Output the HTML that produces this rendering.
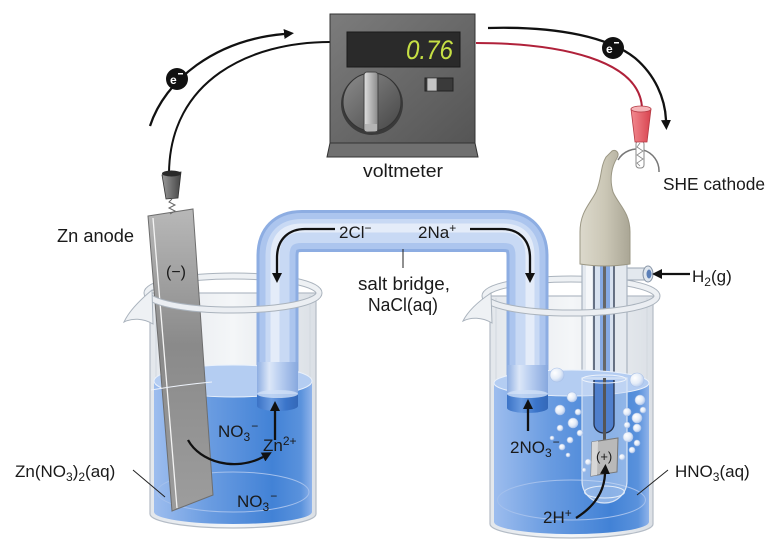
<!DOCTYPE html>
<html><head><meta charset="utf-8"><style>
html,body{margin:0;padding:0;background:#fff;}
svg{display:block;}
text{font-family:"Liberation Sans",sans-serif;fill:#1a1a1a;}
</style></head><body>
<svg width="780" height="552" viewBox="0 0 780 552" xmlns="http://www.w3.org/2000/svg">
<defs>
<marker id="ah" viewBox="0 0 10 10" refX="0" refY="5" markerWidth="10" markerHeight="10" markerUnits="userSpaceOnUse" orient="auto"><path d="M0,0 L10,5 L0,10 z" fill="#111"/></marker>
<linearGradient id="vm" x1="0" y1="0" x2="1" y2="1"><stop offset="0" stop-color="#7c7c7c"/><stop offset="1" stop-color="#555"/></linearGradient>
<linearGradient id="knob" x1="0" y1="0" x2="1" y2="1"><stop offset="0" stop-color="#8c8c8c"/><stop offset="1" stop-color="#464646"/></linearGradient>
<linearGradient id="hdl" x1="0" x2="1"><stop offset="0" stop-color="#e0e0e0"/><stop offset="1" stop-color="#8a8a8a"/></linearGradient>
<linearGradient id="liq" x1="0" x2="1"><stop offset="0" stop-color="#9dbdee"/><stop offset="0.35" stop-color="#6a9ce1"/><stop offset="0.75" stop-color="#4282d6"/><stop offset="0.93" stop-color="#5a92dc"/><stop offset="1" stop-color="#8fb3ea"/></linearGradient>
<linearGradient id="zn" x1="0" y1="0" x2="0" y2="1"><stop offset="0" stop-color="#b8b8b8"/><stop offset="0.45" stop-color="#8a8a8a"/><stop offset="1" stop-color="#9d9d9d"/></linearGradient>
<linearGradient id="clip" x1="0" x2="1"><stop offset="0" stop-color="#9a9a9a"/><stop offset="1" stop-color="#444"/></linearGradient>
<linearGradient id="bulb" x1="0" x2="1"><stop offset="0" stop-color="#dcd9cc"/><stop offset="0.5" stop-color="#cbc7b6"/><stop offset="1" stop-color="#aaa695"/></linearGradient>
<linearGradient id="red" x1="0" x2="1"><stop offset="0" stop-color="#f28a90"/><stop offset="1" stop-color="#d8434f"/></linearGradient>
<linearGradient id="glass" x1="0" x2="1"><stop offset="0" stop-color="#e3e7ec"/><stop offset="0.5" stop-color="#f4f6f8"/><stop offset="1" stop-color="#dbe0e6"/></linearGradient>
<linearGradient id="leg" x1="0" x2="1"><stop offset="0" stop-color="#8eaee2"/><stop offset="0.3" stop-color="#dce7f8"/><stop offset="0.6" stop-color="#b5cbef"/><stop offset="1" stop-color="#87a8de"/></linearGradient>
<linearGradient id="legin" x1="0" x2="1"><stop offset="0" stop-color="#3a72c6"/><stop offset="0.35" stop-color="#6a9be0"/><stop offset="0.7" stop-color="#3b75ca"/><stop offset="1" stop-color="#3468b8"/></linearGradient>
<radialGradient id="bub" cx="0.35" cy="0.35" r="0.7"><stop offset="0" stop-color="#ffffff"/><stop offset="0.6" stop-color="#e4ecf8"/><stop offset="1" stop-color="#b4caee"/></radialGradient>
</defs>

<!-- top wires -->
<path d="M330,42 C250,42 170,80 169,173" fill="none" stroke="#111" stroke-width="2"/>
<path d="M150,126 C165,80 215,40 284,34" fill="none" stroke="#111" stroke-width="2.3" marker-end="url(#ah)"/>
<circle cx="177" cy="79" r="11" fill="#111"/>
<text x="170" y="84" font-size="12" font-weight="bold" style="fill:#fff">e</text>
<rect x="178" y="73" width="5" height="1.5" fill="#fff"/>
<path d="M488,28 C560,26 610,38 635,58 C655,75 665,98 666,120" fill="none" stroke="#111" stroke-width="2.3" marker-end="url(#ah)"/>
<path d="M476,43 C560,43 640,60 642,108" fill="none" stroke="#b0213a" stroke-width="2"/>
<circle cx="613" cy="48" r="11" fill="#111"/>
<text x="606" y="53" font-size="12" font-weight="bold" style="fill:#fff">e</text>
<rect x="614" y="42" width="5" height="1.5" fill="#fff"/>

<!-- voltmeter -->
<path d="M330,143 L327,157 L478,157 L475,143 Z" fill="#707070" stroke="#333" stroke-width="1"/>
<rect x="330" y="14" width="145" height="129" fill="url(#vm)" stroke="#333" stroke-width="1"/>
<rect x="347" y="32" width="113" height="35" fill="#2a2a2a" stroke="#1a1a1a"/>
<text x="406" y="59" font-size="27" font-style="italic" textLength="47" lengthAdjust="spacingAndGlyphs" style="fill:#c6e044">0.76</text>
<circle cx="372" cy="104" r="31" fill="#3a3a3a"/>
<circle cx="372" cy="102" r="29" fill="url(#knob)" stroke="#333" stroke-width="1"/>
<rect x="364" y="72" width="14" height="60" rx="3" fill="url(#hdl)" stroke="#444" stroke-width="1"/>
<rect x="365" y="124" width="12" height="7" fill="#b5b5b5"/>
<rect x="425" y="78" width="28" height="13" fill="#3a3a3a" stroke="#222"/>
<rect x="427" y="78" width="10" height="13" fill="#c4c4c4" stroke="#333" stroke-width="0.7"/>
<text x="363" y="177" font-size="18" textLength="80" lengthAdjust="spacingAndGlyphs">voltmeter</text>

<!-- LEFT BEAKER back -->
<path d="M150,293 L150,514 A83,14 0 0 0 316,514 L316,293 Z" fill="url(#glass)" stroke="#b4bcc6" stroke-width="1.2"/>
<path d="M156,295 L156,512 A77,11 0 0 0 310,512 L310,295" fill="none" stroke="#d2d8df" stroke-width="1"/>
<path d="M147,293 A86,17 0 0 1 319,293" fill="none" stroke="#aab3bd" stroke-width="7"/>
<path d="M147,293 A86,17 0 0 1 319,293" fill="none" stroke="#eef1f4" stroke-width="5"/>

<!-- RIGHT BEAKER back -->
<path d="M490,296 L490,524 A81.5,14 0 0 0 653,524 L653,296 Z" fill="url(#glass)" stroke="#b4bcc6" stroke-width="1.2"/>
<path d="M496,298 L496,522 A75.5,11 0 0 0 647,522 L647,298" fill="none" stroke="#d2d8df" stroke-width="1"/>
<path d="M485,296 A86,17 0 0 1 657,296" fill="none" stroke="#aab3bd" stroke-width="7"/>
<path d="M485,296 A86,17 0 0 1 657,296" fill="none" stroke="#eef1f4" stroke-width="5"/>

<!-- salt bridge -->
<g fill="none" stroke-linecap="butt" stroke-linejoin="round">
<path d="M277.5,410 L277.5,256 Q277.5,231 302,231 L503,231 Q527.5,231 527.5,256 L527.5,412" stroke="#8dadE2" stroke-width="42"/>
<path d="M277.5,410 L277.5,256 Q277.5,231 302,231 L503,231 Q527.5,231 527.5,256 L527.5,412" stroke="#acc5ee" stroke-width="36"/>
<path d="M277.5,410 L277.5,256 Q277.5,231 302,231 L503,231 Q527.5,231 527.5,256 L527.5,412" stroke="#c8d9f4" stroke-width="24"/>
<path d="M275,410 L275,256 Q275,228 302,228 L503,228 Q530,228 530,256 L530,412" stroke="#e4ecf9" stroke-width="9"/>
</g>

<!-- SHE tube above liquid -->
<rect x="620" y="268" width="28" height="12" fill="#e3e8ee" stroke="#9aa5b3" stroke-width="1"/>
<ellipse cx="648" cy="274" rx="5" ry="8" fill="#dfe6ee" stroke="#8a97a8" stroke-width="1"/>
<ellipse cx="649" cy="274" rx="2.5" ry="4.5" fill="#5b7fb8"/>
<path d="M582,262 L582,481 A22.5,22 0 0 0 627,481 L627,262 Z" fill="#e4e9ef" stroke="#a9b3c0" stroke-width="1.2"/>
<rect x="586" y="262" width="6" height="240" fill="#f5f7fa"/>
<path d="M594,262 L594,424 A10,9 0 0 0 614,424 L614,262" fill="#d8e2f0" stroke="#26324a" stroke-width="1.3"/>
<rect x="600" y="262" width="10" height="170" fill="#86a9e2"/>
<rect x="603" y="262" width="3" height="176" fill="#666"/>

<!-- liquids -->
<path d="M154,381 A79,16 0 0 0 312,381 L312,512 A79,12 0 0 1 154,512 Z" fill="url(#liq)"/>
<path d="M494,383 A77,13 0 0 0 649,383 L649,522 A77,12 0 0 1 494,522 Z" fill="url(#liq)"/>
<ellipse cx="233" cy="381" rx="79" ry="16" fill="#b4cdf2" stroke="#eaf1fb" stroke-width="1"/>
<ellipse cx="571.5" cy="383" rx="77.5" ry="13" fill="#b4cdf2" stroke="#eaf1fb" stroke-width="1"/>
<ellipse cx="233" cy="492" rx="76" ry="20" fill="none" stroke="#a4c0ec" stroke-width="1"/>
<ellipse cx="571.5" cy="500" rx="74" ry="20" fill="none" stroke="#a4c0ec" stroke-width="1"/>

<!-- salt bridge legs in liquid -->
<rect x="257" y="362" width="41" height="33" fill="url(#leg)"/>
<path d="M257,394 L257,406 A20.5,5 0 0 0 298,406 L298,394 Z" fill="url(#legin)"/>
<ellipse cx="277.5" cy="394" rx="20.5" ry="4" fill="#cfe0f7" opacity="0.8"/>
<rect x="507" y="365" width="41" height="30" fill="url(#leg)"/>
<path d="M507,394 L507,408 A20.5,5 0 0 0 548,408 L548,394 Z" fill="url(#legin)"/>
<ellipse cx="527.5" cy="394" rx="20.5" ry="4" fill="#cfe0f7" opacity="0.8"/>

<!-- SHE tube in liquid -->
<path d="M582,378 L582,481 A22.5,22 0 0 0 627,481 L627,378 Z" fill="#c7d9f4" fill-opacity="0.55" stroke="#d8e4f5" stroke-width="1.2"/>
<ellipse cx="604.5" cy="492" rx="20" ry="6" fill="none" stroke="#e4edf9" stroke-width="1"/>
<path d="M594,380 L594,424 A10,9 0 0 0 614,424 L614,380" fill="#4f7fcc" stroke="#26324a" stroke-width="1.3"/>
<rect x="603" y="378" width="3" height="62" fill="#555"/>
<ellipse cx="604" cy="379" rx="22" ry="4" fill="none" stroke="#eef3fb" stroke-width="1"/>
<path d="M592,442 L618,438 L617,472 L591,476 Z" fill="#b9b9b9" stroke="#777" stroke-width="1"/>
<path d="M592,442 L598,441 L597,475 L591,476 Z" fill="#d7d7d7"/>
<text x="596" y="461" font-size="13">(+)</text>

<!-- bubbles -->
<g fill="url(#bub)" stroke="#a9c1e8" stroke-width="0.6">
<circle cx="557" cy="375" r="7"/><circle cx="637" cy="380" r="7"/>
<circle cx="572" cy="397" r="5"/><circle cx="560" cy="410" r="5"/>
<circle cx="578" cy="412" r="3"/><circle cx="573" cy="423" r="5"/>
<circle cx="560" cy="428" r="3"/><circle cx="580" cy="433" r="3"/>
<circle cx="570" cy="440" r="3"/><circle cx="562" cy="447" r="3"/>
<circle cx="568" cy="455" r="2"/><circle cx="627" cy="412" r="4"/>
<circle cx="637" cy="418" r="5"/><circle cx="643" cy="410" r="3"/>
<circle cx="640" cy="400" r="5"/><circle cx="627" cy="425" r="3"/>
<circle cx="637" cy="428" r="4"/><circle cx="628" cy="437" r="5"/>
<circle cx="637" cy="443" r="3"/><circle cx="632" cy="450" r="3"/>
<circle cx="588" cy="462" r="3"/><circle cx="622" cy="457" r="3"/>
<circle cx="584" cy="470" r="2"/><circle cx="552" cy="438" r="2"/>
</g>

<!-- zinc strip -->
<path d="M148,216 L193,209 L213,495 L172,511 Z" fill="url(#zn)" stroke="#6e6e6e" stroke-width="1"/>
<path d="M153,218 L177,508" stroke="#f4f4f4" stroke-width="1.3"/>
<path d="M151,390 C175,386 190,384 212,382" stroke="#eef3fb" stroke-width="1" fill="none"/>
<path d="M162,175 L181,172 L178,198 L166,199 Z" fill="url(#clip)" stroke="#333" stroke-width="0.8"/>
<ellipse cx="171.5" cy="173.5" rx="9.5" ry="3" fill="#2a2a2a"/>
<path d="M172,199 L169,202 L175,205 L169,208 L175,211 L170,214" fill="none" stroke="#666" stroke-width="1"/>
<text x="166" y="277" font-size="16">(−)</text>

<!-- front rims -->
<path d="M147,293 A86,17 0 0 0 319,293" fill="none" stroke="#aab3bd" stroke-width="7"/>
<path d="M147,293 A86,17 0 0 0 319,293" fill="none" stroke="#f1f3f6" stroke-width="5" stroke-opacity="0.92"/>
<path d="M152,290 C140,300 129,311 124,322 C132,318 143,318 153,324 Z" fill="#eef1f4" stroke="#aab3bd" stroke-width="1"/>
<path d="M485,296 A86,17 0 0 0 657,296" fill="none" stroke="#aab3bd" stroke-width="7"/>
<path d="M485,296 A86,17 0 0 0 657,296" fill="none" stroke="#f1f3f6" stroke-width="5" stroke-opacity="0.92"/>
<path d="M491,293 C479,301 468,311 463,321 C471,317 482,317 492,323 Z" fill="#eef1f4" stroke="#aab3bd" stroke-width="1"/>

<!-- SHE bulb & connector -->
<path d="M580,264 L580,232 C580,212 590,204 596,192 C602,179 600,167 606,157 L612,151 C616,149 620,153 617,158 C612,166 609,178 613,192 C618,204 630,212 630,232 L630,264 Q605,268 580,264 Z" fill="url(#bulb)" stroke="#9b9784" stroke-width="1"/>
<path d="M618,160 A22,22 0 0 1 659,172" fill="none" stroke="#777" stroke-width="1.5"/>
<rect x="636" y="141" width="8" height="27" rx="3" fill="#fff" stroke="#888" stroke-width="1"/>
<path d="M640,143 L637,147 L643,151 L637,155 L643,159 L637,163 L640,166" fill="none" stroke="#888" stroke-width="0.8"/>
<path d="M631,109 L651,109 L647,142 L635,142 Z" fill="url(#red)" stroke="#b43a44" stroke-width="0.8"/>
<ellipse cx="641" cy="109" rx="10" ry="3" fill="#f6b5b9" stroke="#b43a44" stroke-width="0.8"/>

<!-- arrows -->
<g fill="none" stroke="#111" stroke-width="2.3">
<path d="M335,229 L305,229 C290,229 277,238 277,258 L277,273" marker-end="url(#ah)"/>
<path d="M470,229 L502,229 C517,229 530,238 530,258 L530,273" marker-end="url(#ah)"/>
<path d="M275,440 L275,411" marker-end="url(#ah)"/>
<path d="M188,440 C200,462 235,472 263,457" marker-end="url(#ah)"/>
<path d="M528,431 L528,409" marker-end="url(#ah)"/>
<path d="M576,518 C592,508 604,494 605,474" marker-end="url(#ah)"/>
<path d="M690,274 L662,274" marker-end="url(#ah)"/>
</g>
<g stroke="#222" stroke-width="1">
<line x1="133" y1="470" x2="165" y2="497"/>
<line x1="403" y1="249" x2="403" y2="268"/>
<line x1="637" y1="495" x2="668" y2="470"/>
</g>

<!-- labels -->
<text x="57" y="242" font-size="18" textLength="77" lengthAdjust="spacingAndGlyphs">Zn anode</text>
<text x="663" y="190" font-size="17.5" textLength="102" lengthAdjust="spacingAndGlyphs">SHE cathode</text>
<text x="692" y="282" font-size="17">H<tspan font-size="12" dy="4">2</tspan><tspan dy="-4">(g)</tspan></text>
<text x="339" y="238" font-size="17">2Cl<tspan font-size="12" dy="-6">−</tspan></text>
<text x="418" y="238" font-size="17">2Na<tspan font-size="12" dy="-6">+</tspan></text>
<text x="358" y="290" font-size="18" textLength="92" lengthAdjust="spacingAndGlyphs">salt bridge,</text>
<text x="368" y="311" font-size="18" textLength="70" lengthAdjust="spacingAndGlyphs">NaCl(aq)</text>
<text x="15" y="477" font-size="17">Zn(NO<tspan font-size="12" dy="4">3</tspan><tspan dy="-4">)</tspan><tspan font-size="12" dy="4">2</tspan><tspan dy="-4">(aq)</tspan></text>
<text x="218" y="437" font-size="17">NO<tspan font-size="12" dy="4">3</tspan><tspan font-size="12" dy="-11" dx="1">−</tspan></text>
<text x="263" y="451" font-size="17">Zn<tspan font-size="12" dy="-6">2+</tspan></text>
<text x="237" y="507" font-size="17">NO<tspan font-size="12" dy="4">3</tspan><tspan font-size="12" dy="-11" dx="1">−</tspan></text>
<text x="510" y="453" font-size="17">2NO<tspan font-size="12" dy="4">3</tspan><tspan font-size="12" dy="-11" dx="1">−</tspan></text>
<text x="543" y="523" font-size="17">2H<tspan font-size="12" dy="-6">+</tspan></text>
<text x="675" y="477" font-size="17">HNO<tspan font-size="12" dy="4">3</tspan><tspan dy="-4">(aq)</tspan></text>
</svg>
</body></html>
